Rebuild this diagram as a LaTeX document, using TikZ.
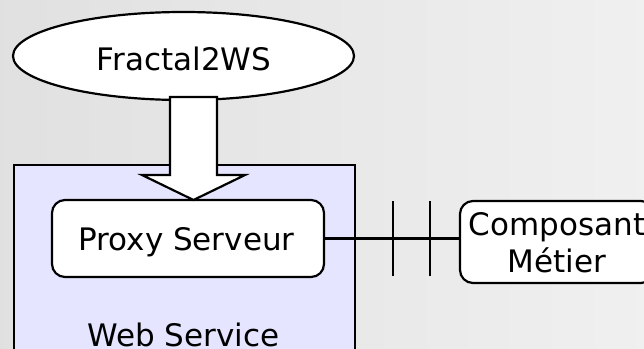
\documentclass[tikz,border=0pt]{standalone}
\usepackage{fontspec}
\setmainfont{DejaVu Sans}
\usetikzlibrary{shapes.geometric,calc}
\tikzset{
  big/.style={font=\fontsize{31}{37}\selectfont, inner sep=0pt},
  ln/.style={line width=2.2pt, draw=black},
  rbox/.style={ln, rounded corners=13pt, fill=white, inner sep=0pt, align=center},
}
\begin{document}
\begin{tikzpicture}[x=1pt,y=-1pt]
\useasboundingbox (0,0) rectangle (644,348);
\clip (0,0) rectangle (644,348);
\shade[left color=black!12, right color=black!6] (0,0) rectangle (644,348);
% Web Service container
\node[ln, fill=blue!10!white, rectangle, minimum width=341pt, minimum height=210pt, inner sep=0pt, anchor=north west] (ws) at (13,164) {};
\node[big, anchor=base] (wslabel) at (183.5,346) {Web Service};
% Fractal2WS ellipse
\node[ln, ellipse, fill=white, minimum width=341pt, minimum height=88pt, inner sep=0pt] (fractal) at (183.5,56) {};
\node[big, anchor=base] (fractaltext) at (184,70) {Fractal2WS};
% Proxy Serveur
\node[rbox, minimum width=272pt, minimum height=77pt] (proxy) at (188,238.5) {};
\node[big, anchor=base] (proxytext) at (186.5,250) {Proxy Serveur};
% Composant Metier
\node[rbox, minimum width=194pt, minimum height=82pt] (compo) at (557,242) {};
\node[big, anchor=base] (compotext1) at (557,235) {Composant};
\node[big, anchor=base] (compotext2) at (557,272) {Métier};
% block arrow from Fractal2WS to Proxy
\coordinate (atop) at (193.5,97);
\coordinate (atip) at (193.5,200);
\draw[ln, fill=white, line join=miter]
  ($(atop)+(-23.5,0)$) -- ($(atop)+(23.5,0)$) -- (217,175) -- (245,175) -- (atip)
  -- (142,175) -- (170,175) -- cycle;
% connector with ticks
\coordinate (cend) at (proxy.east -| compo.west);
\draw[ln] (proxy.east) -- (cend);
\coordinate (t1a) at (393,201); \coordinate (t1b) at (393,276);
\coordinate (t2a) at (430,201); \coordinate (t2b) at (430,276);
\draw[ln] (t1a) -- (t1b);
\draw[ln] (t2a) -- (t2b);
\end{tikzpicture}
\end{document}
